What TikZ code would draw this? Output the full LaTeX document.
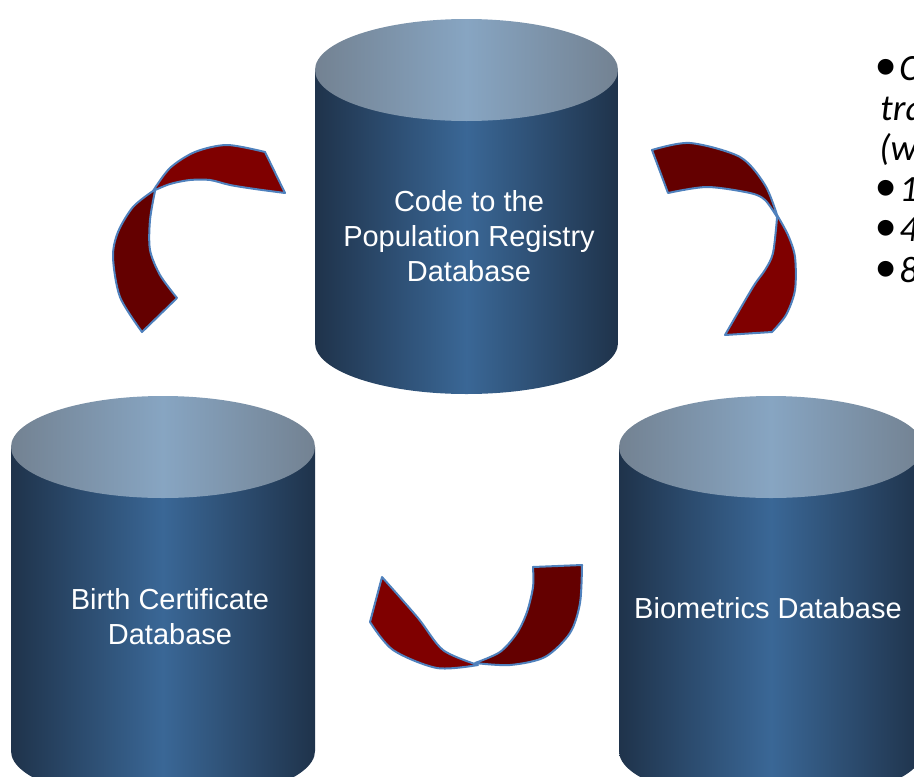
\documentclass[tikz,border=0pt]{standalone}
\usepackage{fontspec}
\setmainfont{Liberation Sans}
\newfontfamily\notefont{Carlito}
\newfontfamily\bulletfont{Liberation Sans}
\newcommand\notebullet{\makebox[12pt][l]{\bulletfont\fontsize{29pt}{29pt}\selectfont\smash{\raisebox{-3.2pt}{•}}}}
\definecolor{dbdark}{HTML}{1F334B}
\definecolor{dbmid}{HTML}{3A6796}
\definecolor{lidedge}{HTML}{738292}
\definecolor{lidmid}{HTML}{87A5C2}
\definecolor{ribbonlight}{HTML}{7F0000}
\definecolor{ribbondark}{HTML}{640000}
\definecolor{ribbonline}{HTML}{4F81BD}
\begin{document}
\begin{tikzpicture}[x=0.5pt,y=-0.5pt,
    dbbody/.style={left color=dbdark,right color=dbdark,middle color=dbmid},
    dblid/.style={left color=lidedge,right color=lidedge,middle color=lidmid},
    ribbon/.style={draw=ribbonline,line width=1pt,line join=round},
    dblabel/.style={text=white,align=center,font=\fontsize{14.5pt}{17.5pt}\selectfont},
    notetext/.style={anchor=base west,inner sep=0pt,font=\notefont\itshape\fontsize{18.5pt}{20pt}\selectfont}]
  \useasboundingbox (0,0) rectangle (914,776);

  % population registry
  \shade[dbbody] (315,70) -- (315,343) arc[start angle=180,end angle=0,x radius=151.5,y radius=51] -- (618,70) -- cycle;
  \shade[dblid] (466.5,70) ellipse [x radius=151.5,y radius=51];
  \node[dblabel] (popdb) at (469,236) {Code to the\\Population Registry\\Database};

  % birth certificates
  \shade[dbbody] (11,447) -- (11,751) arc[start angle=180,end angle=0,x radius=152,y radius=51] -- (315,447) -- cycle;
  \shade[dblid] (163,447) ellipse [x radius=152,y radius=51];
  \node[dblabel] (birthdb) at (170,617) {Birth Certificate\\Database};

  % biometrics
  \shade[dbbody] (619,447) -- (619,751) arc[start angle=180,end angle=0,x radius=152,y radius=51] -- (923,447) -- cycle;
  \shade[dblid] (771,447) ellipse [x radius=152,y radius=51];
  \node[dblabel] (biodb) at (768,608) {Biometrics Database};

  % ribbon left
  \filldraw[ribbon,fill=ribbondark]
    plot[smooth] coordinates {(153,191) (133,207) (118,232) (113,257) (120,297) (142,332)}
    -- plot[smooth] coordinates {(177,298) (160,275) (150,250) (150,220) (155,191)} -- cycle;
  \filldraw[ribbon,fill=ribbonlight]
    plot[smooth] coordinates {(153,191) (170,168) (195,152) (227,145) (265,152)}
    -- plot[smooth] coordinates {(285,193) (255,189) (230,185) (210,180) (190,180) (170,184) (153,191)} -- cycle;

  % ribbon right
  \filldraw[ribbon,fill=ribbonlight]
    plot[smooth] coordinates {(777,215) (788,235) (795,257) (795,290) (786,315) (772,332)}
    -- plot[smooth] coordinates {(725,335) (753,287) (765,270) (773,253) (777,218)} -- cycle;
  \filldraw[ribbon,fill=ribbondark]
    plot[smooth] coordinates {(652,150) (690,143) (740,157) (765,185) (777,215)}
    -- plot[smooth] coordinates {(777,217) (765,200) (750,193) (707,187) (668,193)} -- cycle;

  % ribbon bottom
  \filldraw[ribbon,fill=ribbonlight]
    (382,577) -- plot[smooth] coordinates {(370,622) (393,650) (437,668) (478,665)}
    -- plot[smooth] coordinates {(478,665) (443,650) (418,618) (382,577)} -- cycle;
  \filldraw[ribbon,fill=ribbondark]
    plot[smooth] coordinates {(475,663) (510,665) (545,657) (570,633) (580,603) (582,565)}
    -- plot[smooth] coordinates {(533,567) (533,587) (527,612) (517,633) (500,652) (475,663)} -- cycle;

  % notes
  \node[notetext] (note1) at (875,80) {\notebullet C};
  \node[notetext] (note2) at (880,120) {tra};
  \node[notetext] (note3) at (879,160) {(w};
  \node[notetext] (note4) at (875,201) {\notebullet 1};
  \node[notetext] (note5) at (875,241) {\notebullet 4};
  \node[notetext] (note6) at (875,282) {\notebullet 8};
\end{tikzpicture}
\end{document}
